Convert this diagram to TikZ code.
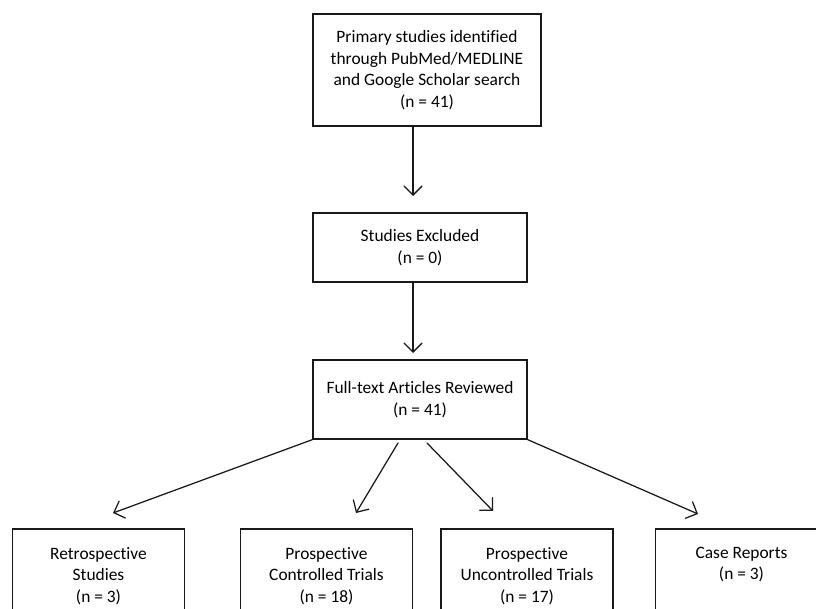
\documentclass[tikz,border=0pt]{standalone}
\usepackage{fontspec}
\setmainfont{Carlito}[Ligatures=NoCommon]
\usetikzlibrary{arrows.meta}
\begin{document}
\begin{tikzpicture}[x=1pt,y=-1pt,
  box/.style={draw=black!90, line width=1.25pt, rectangle, inner sep=0pt, align=center,
    font=\fontsize{17.4}{21.5}\selectfont, text=black},
  lbl/.style={inner sep=0pt, align=center, anchor=north,
    font=\fontsize{17.4}{21.5}\selectfont, text=black},
  arr/.style={draw=black!90, line width=1.25pt, line cap=round,
    -{Straight Barb[length=9pt,width=18pt,line cap=round]}}]
\useasboundingbox (0,0) rectangle (816,609);
\clip (0,0) rectangle (816,609);

\node[box, minimum width=228pt, minimum height=112pt] (n1) at (427,70)
  {Primary studies identified\\through PubMed/MEDLINE\\and Google Scholar search\\(n = 41)};
\node[box, minimum width=214pt, minimum height=69pt] (n2) at (420,247.5)
  {Studies Excluded\\(n = 0)};
\node[box, minimum width=214pt, minimum height=79pt] (n3) at (420,399.5)
  {Full-text Articles Reviewed\\(n = 41)};

\node[box, minimum width=172pt, minimum height=100pt] (b1) at (98.5,579) {};
\node[box, minimum width=172pt, minimum height=100pt] (b2) at (326.5,579) {};
\node[box, minimum width=172pt, minimum height=100pt] (b3) at (527,579) {};
\node[box, minimum width=172pt, minimum height=100pt] (b4) at (741.5,579) {};

\node[lbl] (t1) at (98.5,547) {Retrospective\\Studies\\(n = 3)};
\node[lbl] (t2) at (326.5,547) {Prospective\\Controlled Trials\\(n = 18)};
\node[lbl] (t3) at (527,547) {Prospective\\Uncontrolled Trials\\(n = 17)};
\node[lbl] (t4) at (741.5,547) {Case Reports\\(n = 3)};

\coordinate (e1) at (413,196);
\draw[arr] (n1.south -| e1) -- (e1);
\coordinate (e2) at (413,353);
\draw[arr] (n2.south -| e2) -- (e2);

\coordinate (e3) at (113,513);
\draw[arr] (n3.south west) -- (e3);
\coordinate (s4) at (398,443);
\coordinate (e4) at (356,513);
\draw[arr] (s4) -- (e4);
\coordinate (s5) at (427,443);
\coordinate (e5) at (493,511);
\draw[arr] (s5) -- (e5);
\coordinate (e6) at (698,514);
\draw[arr] (n3.south east) -- (e6);
\end{tikzpicture}
\end{document}
